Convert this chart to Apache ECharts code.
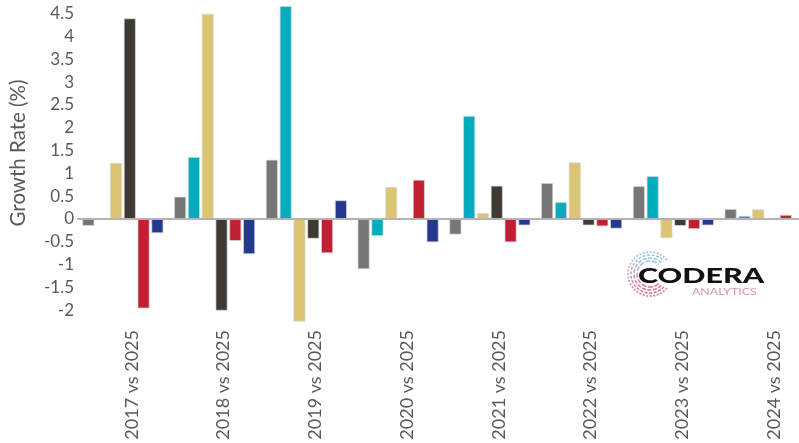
<!DOCTYPE html>
<html>
<head>
<meta charset="utf-8">
<script src="https://cdn.jsdelivr.net/npm/echarts@6/dist/echarts.min.js"></script>
<style>
html,body{margin:0;padding:0;background:#fff;}
#chart{width:799px;height:443px;}
</style>
</head>
<body>
<div id="chart"></div>
<script>
const categories = ['2017 vs 2025','2018 vs 2025','2019 vs 2025','2020 vs 2025','2021 vs 2025','2022 vs 2025','2023 vs 2025','2024 vs 2025'];
const greyValues = [-0.15, 0.49, 1.30, -1.10, -0.34, 0.79, 0.72, 0.22];
const cyanValues = [null, 1.36, 4.67, -0.37, 2.26, 0.37, 0.94, 0.07];
const goldValues = [1.23, 4.50, -2.25, 0.70, 0.13, 1.24, -0.42, 0.21];
const darkValues = [4.40, -2.01, -0.43, null, 0.73, -0.14, -0.15, 0.02];
const redValues = [-1.96, -0.48, -0.75, 0.86, -0.51, -0.16, -0.22, 0.09];
const blueValues = [-0.31, -0.77, 0.41, -0.51, -0.14, -0.21, -0.14, null];
const yTickMin = -2.5, yTickMax = 4.75, yTickStep = 0.5;

const seriesDefs = [
  {name:'Series 1', data: greyValues, color:'#767676'},
  {name:'Series 2', data: cyanValues, color:'#00adbd'},
  {name:'Series 3', data: goldValues, color:'#dbc574'},
  {name:'Series 4', data: darkValues, color:'#3e3932'},
  {name:'Series 5', data: redValues, color:'#c21f33'},
  {name:'Series 6', data: blueValues, color:'#24398e'}
];

const chart = echarts.init(document.getElementById('chart'), null, {renderer:'canvas'});
const textColor = '#595959';

const series = seriesDefs.map((s, i) => {
  const o = {
    name: s.name,
    type: 'bar',
    data: s.data,
    barWidth: 12,
    barGap: '15%',
    itemStyle: {color: s.color, borderColor: 'rgba(215,215,215,0.9)', borderWidth: 0.8},
    emphasis: {disabled: true},
    animation: false
  };
  if (i === 0) {
    o.markLine = {
      silent: true, symbol: ['none','none'], animation: false,
      label: {show: false},
      lineStyle: {color: '#b3b3b3', width: 2, type: 'solid'},
      data: [{yAxis: 0}]
    };
  }
  return o;
});

const swirlGrad = {type:'linear', x:0, y:0, x2:0, y2:1, colorStops:[{offset:0,color:'#8fd0e3'},{offset:0.45,color:'#c9a6c9'},{offset:1,color:'#e0707f'}]};
const swirl = [];
[22, 19, 16, 13].forEach((r, k) => {
  swirl.push({
    type: 'arc', silent: true,
    shape: {cx: 650, cy: 274, r: r, startAngle: Math.PI*0.22 + k*0.05, endAngle: Math.PI*1.78 - k*0.05, clockwise: true},
    style: {stroke: swirlGrad, lineWidth: 1.6, fill: null, lineDash: [2 + k, 1.5]}
  });
});

chart.setOption({
  animation: false,
  grid: {left: 77, width: 734, top: 2.4, bottom: 110, containLabel: false, outerBoundsMode: 'none'},
  xAxis: {
    type: 'category',
    data: categories,
    position: 'bottom',
    axisLine: {show: false, onZero: false},
    axisTick: {show: false},
    splitLine: {show: false},
    axisLabel: {
      rotate: 90, margin: -3, color: textColor,
      fontFamily: 'Lato', fontSize: 18, verticalAlign: 'top', interval: 0
    }
  },
  yAxis: {
    type: 'value',
    min: yTickMin, max: yTickMax, interval: yTickStep,
    axisLine: {show: false},
    axisTick: {show: false},
    splitLine: {show: false},
    axisLabel: {
      showMinLabel: false, showMaxLabel: false,
      color: textColor, fontFamily: 'Lato', fontSize: 17, margin: 3
    }
  },
  series: series,
  graphic: swirl.concat([
    {
      type: 'text', silent: true, x: 18, y: 153, rotation: Math.PI / 2,
      style: {text: 'Growth Rate (%)', fill: textColor, font: '20.5px Lato', textAlign: 'center', textVerticalAlign: 'middle'}
    },
    {
      type: 'text', silent: true, x: 638, y: 266, scaleX: 1.45,
      style: {text: 'CODERA', fill: '#111111', font: '900 21px Lato', textVerticalAlign: 'top'}
    },
    {
      type: 'text', silent: true, x: 692, y: 287, scaleX: 1.3,
      style: {text: 'ANALYTICS', fill: '#d193a8', font: '400 9.5px Lato', textVerticalAlign: 'top'}
    }
  ])
});
</script>
</body>
</html>
